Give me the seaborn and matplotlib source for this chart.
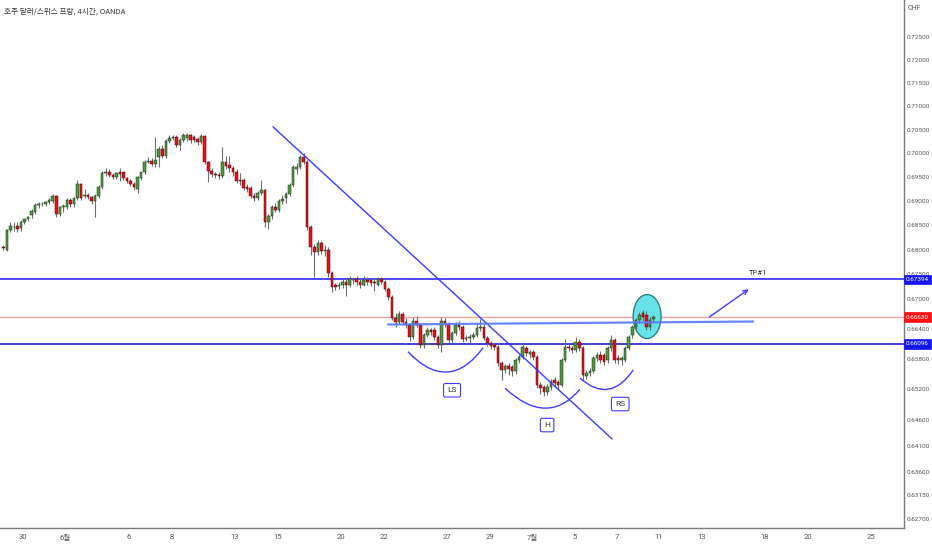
import numpy as np
import pandas as pd
import matplotlib
matplotlib.use("Agg")
import matplotlib.pyplot as plt
import seaborn as sns
from matplotlib.patches import Ellipse, PathPatch
from matplotlib.path import Path
from matplotlib import transforms
from matplotlib.ticker import FixedLocator, NullLocator

# ---------------- data (AUD/CHF 4H candles) ----------------
title = "호주 달러/스위스 프랑, 4시간, OANDA"

open_ = [
    0.6805, 0.6800, 0.6840, 0.6846, 0.6848, 0.6844, 0.6857, 0.6863, 0.6871, 0.6877,
    0.6892, 0.6894, 0.6894, 0.6898, 0.6900, 0.6911, 0.6873, 0.6888, 0.6888, 0.6902,
    0.6894, 0.6906, 0.6936, 0.6911, 0.6913, 0.6908, 0.6900, 0.6911, 0.6929, 0.6958,
    0.6960, 0.6954, 0.6950, 0.6960, 0.6960, 0.6948, 0.6942, 0.6936, 0.6925, 0.6948,
    0.6960, 0.6983, 0.6985, 0.6977, 0.6992, 0.7010, 0.6994, 0.7027, 0.7033, 0.7035,
    0.7017, 0.7029, 0.7033, 0.7039, 0.7035, 0.7031, 0.7025, 0.7037, 0.6981, 0.6963,
    0.6956, 0.6954, 0.6952, 0.6983, 0.6975, 0.6969, 0.6960, 0.6944, 0.6944, 0.6929,
    0.6927, 0.6911, 0.6906, 0.6917, 0.6923, 0.6857, 0.6869, 0.6888, 0.6882, 0.6900,
    0.6906, 0.6915, 0.6933, 0.6967, 0.6971, 0.6992, 0.6983, 0.6846, 0.6805, 0.6796,
    0.6813, 0.6798, 0.6800, 0.6753, 0.6727, 0.6725, 0.6727, 0.6735, 0.6727, 0.6739,
    0.6741, 0.6735, 0.6729, 0.6739, 0.6739, 0.6735, 0.6729, 0.6741, 0.6735, 0.6719,
    0.6703, 0.6662, 0.6654, 0.6669, 0.6654, 0.6648, 0.6624, 0.6656, 0.6648, 0.6608,
    0.6628, 0.6638, 0.6638, 0.6624, 0.6608, 0.6656, 0.6650, 0.6618, 0.6632, 0.6648,
    0.6644, 0.6620, 0.6622, 0.6624, 0.6628, 0.6642, 0.6644, 0.6622, 0.6612, 0.6608,
    0.6604, 0.6572, 0.6558, 0.6566, 0.6564, 0.6556, 0.6578, 0.6584, 0.6602, 0.6590,
    0.6594, 0.6584, 0.6528, 0.6524, 0.6514, 0.6524, 0.6538, 0.6534, 0.6528, 0.6578,
    0.6604, 0.6602, 0.6598, 0.6614, 0.6602, 0.6546, 0.6552, 0.6556, 0.6582, 0.6588,
    0.6588, 0.6578, 0.6602, 0.6618, 0.6582, 0.6578, 0.6578, 0.6602, 0.6628, 0.6644,
    0.6658, 0.6672, 0.6668, 0.6644, 0.6660,
]
close = [
    0.6803, 0.6840, 0.6848, 0.6847, 0.6842, 0.6857, 0.6863, 0.6867, 0.6879, 0.6892,
    0.6894, 0.6895, 0.6898, 0.6902, 0.6911, 0.6873, 0.6888, 0.6890, 0.6902, 0.6894,
    0.6906, 0.6936, 0.6906, 0.6913, 0.6908, 0.6900, 0.6911, 0.6929, 0.6958, 0.6960,
    0.6954, 0.6950, 0.6958, 0.6956, 0.6948, 0.6942, 0.6936, 0.6929, 0.6950, 0.6960,
    0.6983, 0.6985, 0.6977, 0.6987, 0.7010, 0.6994, 0.7027, 0.7033, 0.7035, 0.7017,
    0.7029, 0.7039, 0.7039, 0.7029, 0.7029, 0.7025, 0.7037, 0.6981, 0.6963, 0.6956,
    0.6954, 0.6952, 0.6983, 0.6973, 0.6969, 0.6960, 0.6942, 0.6942, 0.6927, 0.6925,
    0.6911, 0.6906, 0.6917, 0.6923, 0.6857, 0.6869, 0.6888, 0.6882, 0.6900, 0.6904,
    0.6915, 0.6933, 0.6971, 0.6971, 0.6992, 0.6983, 0.6846, 0.6805, 0.6796, 0.6813,
    0.6798, 0.6800, 0.6753, 0.6723, 0.6723, 0.6729, 0.6735, 0.6727, 0.6741, 0.6738,
    0.6735, 0.6729, 0.6739, 0.6735, 0.6733, 0.6733, 0.6741, 0.6735, 0.6719, 0.6703,
    0.6662, 0.6654, 0.6669, 0.6654, 0.6648, 0.6624, 0.6656, 0.6648, 0.6608, 0.6628,
    0.6638, 0.6634, 0.6624, 0.6608, 0.6656, 0.6650, 0.6618, 0.6632, 0.6648, 0.6644,
    0.6620, 0.6622, 0.6624, 0.6628, 0.6642, 0.6644, 0.6622, 0.6612, 0.6606, 0.6604,
    0.6572, 0.6558, 0.6566, 0.6560, 0.6556, 0.6578, 0.6584, 0.6604, 0.6592, 0.6594,
    0.6584, 0.6528, 0.6522, 0.6514, 0.6524, 0.6534, 0.6532, 0.6528, 0.6578, 0.6604,
    0.6602, 0.6598, 0.6614, 0.6602, 0.6548, 0.6552, 0.6556, 0.6582, 0.6588, 0.6578,
    0.6574, 0.6602, 0.6618, 0.6578, 0.6578, 0.6582, 0.6602, 0.6624, 0.6644, 0.6658,
    0.6668, 0.6664, 0.6644, 0.6658, 0.6663,
]
high = [
    0.6809, 0.6843, 0.6856, 0.6856, 0.6856, 0.6861, 0.6866, 0.6870, 0.6883, 0.6896,
    0.6898, 0.6898, 0.6900, 0.6906, 0.6915, 0.6913, 0.6890, 0.6894, 0.6906, 0.6906,
    0.6908, 0.6944, 0.6938, 0.6925, 0.6917, 0.6911, 0.6915, 0.6933, 0.6964, 0.6969,
    0.6967, 0.6958, 0.6962, 0.6969, 0.6962, 0.6950, 0.6946, 0.6940, 0.6952, 0.6962,
    0.6987, 0.6992, 0.6990, 0.7035, 0.7015, 0.7017, 0.7031, 0.7039, 0.7039, 0.7039,
    0.7033, 0.7043, 0.7043, 0.7041, 0.7039, 0.7035, 0.7041, 0.7039, 0.6985, 0.6969,
    0.6962, 0.6960, 0.7014, 0.6994, 0.6994, 0.6973, 0.6967, 0.6958, 0.6948, 0.6935,
    0.6931, 0.6917, 0.6921, 0.6944, 0.6925, 0.6873, 0.6892, 0.6896, 0.6904, 0.6913,
    0.6919, 0.6938, 0.6975, 0.6979, 0.6996, 0.7002, 0.6987, 0.6850, 0.6811, 0.6819,
    0.6817, 0.6809, 0.6805, 0.6757, 0.6733, 0.6735, 0.6743, 0.6741, 0.6747, 0.6745,
    0.6747, 0.6741, 0.6747, 0.6745, 0.6743, 0.6741, 0.6745, 0.6745, 0.6739, 0.6723,
    0.6707, 0.6672, 0.6676, 0.6673, 0.6662, 0.6652, 0.6664, 0.6666, 0.6652, 0.6632,
    0.6644, 0.6642, 0.6644, 0.6628, 0.6664, 0.6662, 0.6654, 0.6636, 0.6654, 0.6656,
    0.6648, 0.6628, 0.6630, 0.6634, 0.6652, 0.6660, 0.6650, 0.6626, 0.6616, 0.6612,
    0.6608, 0.6576, 0.6570, 0.6572, 0.6568, 0.6582, 0.6590, 0.6614, 0.6606, 0.6598,
    0.6598, 0.6588, 0.6534, 0.6528, 0.6530, 0.6540, 0.6544, 0.6538, 0.6582, 0.6620,
    0.6612, 0.6606, 0.6624, 0.6620, 0.6606, 0.6558, 0.6562, 0.6586, 0.6594, 0.6596,
    0.6592, 0.6606, 0.6628, 0.6622, 0.6588, 0.6586, 0.6606, 0.6628, 0.6648, 0.6662,
    0.6674, 0.6678, 0.6676, 0.6664, 0.6667,
]
low = [
    0.6799, 0.6797, 0.6836, 0.6838, 0.6836, 0.6838, 0.6852, 0.6859, 0.6865, 0.6873,
    0.6886, 0.6890, 0.6890, 0.6894, 0.6896, 0.6867, 0.6869, 0.6877, 0.6883, 0.6888,
    0.6888, 0.6902, 0.6902, 0.6906, 0.6904, 0.6894, 0.6867, 0.6906, 0.6925, 0.6952,
    0.6950, 0.6946, 0.6946, 0.6942, 0.6944, 0.6938, 0.6931, 0.6923, 0.6917, 0.6944,
    0.6956, 0.6979, 0.6973, 0.6971, 0.6971, 0.6990, 0.6990, 0.7023, 0.7029, 0.7013,
    0.7008, 0.7025, 0.7027, 0.7023, 0.7025, 0.7017, 0.7021, 0.6977, 0.6940, 0.6950,
    0.6948, 0.6946, 0.6948, 0.6967, 0.6962, 0.6952, 0.6938, 0.6933, 0.6923, 0.6919,
    0.6906, 0.6900, 0.6902, 0.6913, 0.6846, 0.6842, 0.6863, 0.6877, 0.6877, 0.6894,
    0.6896, 0.6911, 0.6929, 0.6956, 0.6967, 0.6977, 0.6840, 0.6790, 0.6745, 0.6790,
    0.6792, 0.6788, 0.6745, 0.6713, 0.6717, 0.6719, 0.6721, 0.6705, 0.6723, 0.6731,
    0.6729, 0.6721, 0.6725, 0.6727, 0.6725, 0.6715, 0.6725, 0.6731, 0.6715, 0.6697,
    0.6658, 0.6644, 0.6650, 0.6648, 0.6642, 0.6616, 0.6620, 0.6644, 0.6602, 0.6602,
    0.6624, 0.6628, 0.6618, 0.6602, 0.6594, 0.6644, 0.6612, 0.6612, 0.6628, 0.6638,
    0.6614, 0.6616, 0.6612, 0.6620, 0.6624, 0.6636, 0.6618, 0.6606, 0.6600, 0.6598,
    0.6566, 0.6538, 0.6552, 0.6548, 0.6546, 0.6550, 0.6572, 0.6580, 0.6586, 0.6582,
    0.6578, 0.6522, 0.6510, 0.6506, 0.6508, 0.6518, 0.6526, 0.6520, 0.6524, 0.6574,
    0.6596, 0.6592, 0.6594, 0.6596, 0.6538, 0.6540, 0.6546, 0.6552, 0.6576, 0.6572,
    0.6568, 0.6572, 0.6596, 0.6572, 0.6570, 0.6568, 0.6574, 0.6598, 0.6622, 0.6638,
    0.6652, 0.6656, 0.6638, 0.6638, 0.6654,
]

# trading-day index (6 candles per day) of each date label
day_ticks = [1, 3, 6, 8, 11, 13, 16, 18, 21, 23, 25, 27, 29, 31, 33, 36, 38, 41]
day_labels = ["30", "6월", "6", "8", "13", "15", "20", "22", "27", "29",
              "7월", "5", "7", "11", "13", "18", "20", "25"]
candles_per_day = 6

price_ticks = [0.725, 0.720, 0.715, 0.710, 0.705, 0.700, 0.695, 0.690, 0.685,
               0.680, 0.675, 0.670, 0.664, 0.658, 0.652, 0.646, 0.641, 0.636,
               0.6315, 0.627]
level_top = 0.67394
level_bottom = 0.66096
last_price = 0.66630
currency = "CHF"

# drawings (candle index, price)
trend_line = [(76.3, 0.70566), (172.3, 0.64230)]
neckline = [(108.9, 0.66484), (212.2, 0.66544)]
tp_arrow = [(199.2, 0.66604), (211.6, 0.67227)]
tp_text = (213.6, 0.67528, "TP#1")
circle = (182.2, 0.66645, 7.9, 0.00883)
arcs = {
    "LS": [(114.5, 0.65942), (126.05, 0.65098), (135.8, 0.66022)],
    "H": [(142.0, 0.65219), (154.0, 0.64451), (163.2, 0.65199)],
    "RS": [(163.2, 0.65420), (171.65, 0.64898), (178.3, 0.65581)],
}
arc_labels = {"LS": (127.0, 0.6518), "H": (153.9, 0.6450), "RS": (174.6, 0.6491)}

# ---------------- figure ----------------
sns.set_theme(style="white")
plt.rcParams['font.family'] = ['Roboto', 'Noto Sans CJK KR', 'DejaVu Sans']

df = pd.DataFrame({"open": open_, "high": high, "low": low, "close": close})
df["x"] = np.arange(len(df))
df["up"] = df["close"] >= df["open"]

fig = plt.figure(figsize=(9.32, 5.50), dpi=100)
fig.patch.set_facecolor("white")
ax = fig.add_axes([0, 22 / 550, 904 / 932, 528 / 550])
ax.set_facecolor("white")

ax.set_yscale("log")
ax.set_ylim(0.62530, 0.73313)
ax.set_xlim(-0.93, 254.9)

GREEN = "#4f9a3c"
RED = "#e5121b"
BLUE = "#2b2bff"

# wicks
ax.vlines(df["x"], df["low"], df["high"], color="#6e6e6e", lw=0.8, zorder=3)
# bodies
for is_up, col in [(True, GREEN), (False, RED)]:
    d = df[df["up"] == is_up]
    h = (d["close"] - d["open"]).abs().clip(lower=0.00004)
    b = d[["open", "close"]].min(axis=1)
    ax.bar(d["x"], h, bottom=b, width=0.72, color=col,
           edgecolor="#1d2a1d" if is_up else "#3a0a0a", linewidth=0.35, zorder=4)

# horizontal levels
ax.axhline(level_top, color=BLUE, lw=1.2, zorder=2)
ax.axhline(level_bottom, color="#2020d8", lw=1.2, zorder=2)
ax.axhline(last_price, color="#f5a3a3", lw=1.0, zorder=1.5)

# highlighted area
ell = Ellipse(circle[:2], width=circle[2], height=circle[3], facecolor="#66e4ea",
              edgecolor="#2e7f80", lw=1.0, zorder=2.5)
ax.add_patch(ell)

# trend line and neckline
ax.plot([p[0] for p in trend_line], [p[1] for p in trend_line], color="#3b3bff", lw=1.0, zorder=5)
ax.plot([p[0] for p in neckline], [p[1] for p in neckline], color="#5a78ff", lw=1.6, alpha=0.9, zorder=5)

# arcs
for key, pts in arcs.items():
    path = Path(pts, [Path.MOVETO, Path.CURVE3, Path.CURVE3])
    ax.add_patch(PathPatch(path, facecolor="none", edgecolor="#3d3dff", lw=1.0, zorder=5))
    lx, ly = arc_labels[key]
    ax.text(lx, ly, key, ha="center", va="center", fontsize=6, color="#333333", zorder=6,
            bbox=dict(boxstyle="round,pad=0.45,rounding_size=0.2", fc="white", ec="#3d3dff", lw=0.8))

# TP arrow and text
ax.annotate("", xy=tp_arrow[1], xytext=tp_arrow[0],
            arrowprops=dict(arrowstyle="->", color="#3d3dff", lw=1.0, mutation_scale=8), zorder=5)
ax.text(tp_text[0], tp_text[1], tp_text[2], ha="center", va="center", fontsize=5.5,
        color="#333333", zorder=6)

# axes styling
for s in ["left", "top"]:
    ax.spines[s].set_visible(False)
for s in ["right", "bottom"]:
    ax.spines[s].set_visible(True)
    ax.spines[s].set_color("#7a7a7a")
    ax.spines[s].set_linewidth(1.0)

ax.yaxis.tick_right()
ax.yaxis.set_major_locator(FixedLocator(price_ticks))
ax.yaxis.set_minor_locator(NullLocator())
ax.set_yticklabels([f"{p:.5f}" for p in price_ticks])
ax.tick_params(axis="y", which="both", length=0, pad=2.0, labelsize=4.6, colors="#555555")

ax.set_xticks([candles_per_day * d - 0.4 for d in day_ticks])
ax.set_xticklabels(day_labels)
ax.tick_params(axis="x", length=0, pad=4, labelsize=5.5, colors="#555555")
ax.grid(False)

# price label boxes on the axis
blend = transforms.blended_transform_factory(fig.transFigure, ax.transData)
for val, col in [(level_top, "#1515f0"), (last_price, "#ff1010"), (level_bottom, "#1515f0")]:
    ax.text(906 / 932, val, f"{val:.5f}", transform=blend, ha="left", va="center",
            fontsize=4.6, color="white", zorder=10, clip_on=False,
            bbox=dict(boxstyle="square,pad=0.35", fc=col, ec=col, lw=0.5))

fig.text(4 / 932, 1 - 12 / 550, title, fontsize=5.5, color="#333333", va="center",
         family=["Noto Sans CJK KR", "DejaVu Sans"])
fig.text(908 / 932, 1 - 9 / 550, currency, fontsize=5, color="#555555", va="center")

fig.savefig("out.png", dpi=100, facecolor="white")
